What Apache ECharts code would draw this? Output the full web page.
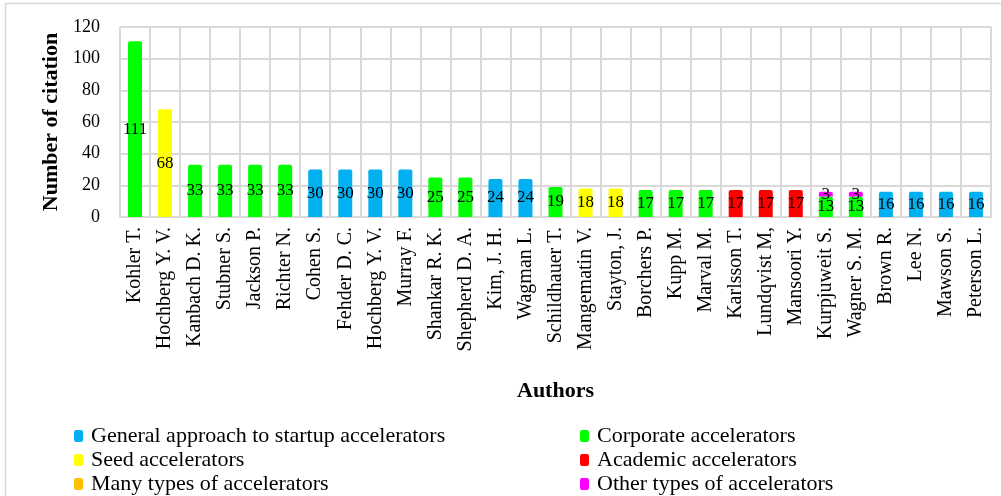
<!DOCTYPE html>
<html>
<head>
<meta charset="utf-8">
<title>Number of citation by author</title>
<script src="https://cdn.jsdelivr.net/npm/echarts@6/dist/echarts.min.js"></script>
<style>
  html, body { margin: 0; padding: 0; background: #ffffff; }
  #chart { width: 1001px; height: 496px; }
</style>
</head>
<body>
<div id="chart"></div>
<script>
// Authors along the x axis
const authors = [
  'Kohler T.', 'Hochberg Y. V.', 'Kanbach D. K.', 'Stubner S.', 'Jackson P.',
  'Richter N.', 'Cohen S.', 'Fehder D. C.', 'Hochberg Y. V.', 'Murray F.',
  'Shankar R. K.', 'Shepherd D. A.', 'Kim, J. H.', 'Wagman L.', 'Schildhauer T.',
  'Mangematin V.', 'Stayton, J.', 'Borchers P.', 'Kupp M.', 'Marval M.',
  'Karlsson T.', 'Lundqvist M,', 'Mansoori Y.', 'Kurpjuweit S.', 'Wagner S. M.',
  'Brown R.', 'Lee N.', 'Mawson S.', 'Peterson L.'
];

// Citations per accelerator type ('-' = none)
const generalApproach = ['-','-','-','-','-','-',30,30,30,30,'-','-',24,24,'-','-','-','-','-','-','-','-','-','-','-',16,16,16,16];
const corporate       = [111,'-',33,33,33,33,'-','-','-','-',25,25,'-','-',19,'-','-',17,17,17,'-','-','-',13,13,'-','-','-','-'];
const seed            = ['-',68,'-','-','-','-','-','-','-','-','-','-','-','-','-',18,18,'-','-','-','-','-','-','-','-','-','-','-','-'];
const academic        = ['-','-','-','-','-','-','-','-','-','-','-','-','-','-','-','-','-','-','-','-',17,17,17,'-','-','-','-','-','-'];
const manyTypes       = ['-','-','-','-','-','-','-','-','-','-','-','-','-','-','-','-','-','-','-','-','-','-','-','-','-','-','-','-','-'];
const otherTypes      = ['-','-','-','-','-','-','-','-','-','-','-','-','-','-','-','-','-','-','-','-','-','-','-',3,3,'-','-','-','-'];

const seriesNames = [
  'General approach to startup accelerators',
  'Corporate accelerators',
  'Seed accelerators',
  'Academic accelerators',
  'Many types of accelerators',
  'Other types of accelerators'
];
const seriesData = [generalApproach, corporate, seed, academic, manyTypes, otherTypes];
const seriesColors = ['#00B0F0', '#00FF00', '#FFFF00', '#FF0000', '#FFC000', '#FF00FF'];

const yTicks = { min: 0, max: 120, interval: 20 };

const serif = 'Liberation Serif';
const gridColor = '#d9d9d9';

const chart = echarts.init(document.getElementById('chart'), null, { renderer: 'canvas' });

const series = seriesNames.map((name, i) => ({
  name: name,
  type: 'bar',
  stack: 'citations',
  barWidth: 14,
  data: seriesData[i],
  itemStyle: { color: seriesColors[i], borderRadius: [2, 2, 0, 0] },
  label: {
    show: true,
    position: 'inside',
    color: '#000',
    fontFamily: serif,
    fontSize: 17,
    formatter: p => (p.value === '-' || p.value == null) ? '' : String(p.value)
  },
  emphasis: { disabled: true }
}));

const legendText = { fontFamily: serif, fontSize: 22, color: '#000', lineHeight: 24, padding: [0, 0, 0, 3] };
const legendBase = {
  orient: 'vertical', top: 424, height: 100, padding: 0,
  itemWidth: 9, itemHeight: 12, itemGap: 0,
  icon: 'roundRect',
  textStyle: legendText,
  selectedMode: false
};

chart.setOption({
  animation: false,
  backgroundColor: '#ffffff',
  graphic: [{
    type: 'rect',
    shape: { x: 5.5, y: 3.5, width: 1100, height: 600 },
    style: { fill: 'none', stroke: gridColor, lineWidth: 1.5 },
    silent: true,
    z: -10
  }],
  grid: { left: 120, right: 10, top: 27, bottom: 279, containLabel: false },
  legend: [
    Object.assign({}, legendBase, {
      data: [seriesNames[0], seriesNames[2], seriesNames[4]], left: 74
    }),
    Object.assign({}, legendBase, {
      data: [seriesNames[1], seriesNames[3], seriesNames[5]], left: 580
    })
  ],
  xAxis: {
    type: 'category',
    data: authors,
    name: 'Authors',
    nameLocation: 'middle',
    nameGap: 163,
    nameTextStyle: { fontFamily: serif, fontWeight: 'bold', fontSize: 22, color: '#000' },
    axisLine: { show: true, lineStyle: { color: gridColor, width: 2 } },
    axisTick: { show: false },
    splitLine: { show: true, interval: 0, lineStyle: { color: gridColor, width: 2 } },
    axisLabel: {
      interval: 0,
      rotate: 90,
      margin: 10,
      fontFamily: serif,
      fontSize: 20,
      color: '#000'
    }
  },
  yAxis: {
    type: 'value',
    min: yTicks.min,
    max: yTicks.max,
    interval: yTicks.interval,
    name: 'Number of citation',
    nameLocation: 'middle',
    nameGap: 58,
    nameTextStyle: { fontFamily: serif, fontWeight: 'bold', fontSize: 22, color: '#000' },
    axisLine: { show: false },
    axisTick: { show: false },
    splitLine: { show: true, lineStyle: { color: gridColor, width: 2 } },
    axisLabel: { margin: 20, fontFamily: serif, fontSize: 18, color: '#000' }
  },
  series: series
});
</script>
</body>
</html>
